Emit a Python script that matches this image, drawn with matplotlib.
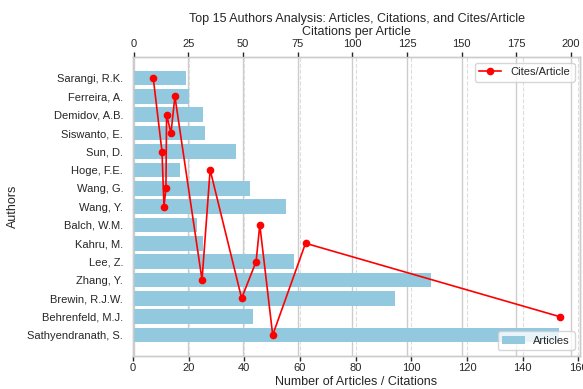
import numpy as np
import matplotlib
matplotlib.use("Agg")
import matplotlib.pyplot as plt
import matplotlib.transforms as mtransforms

plt.rcParams.update({
    "font.family": ["Liberation Sans", "DejaVu Sans"],
    "font.size": 8,
    "axes.edgecolor": "#cccccc",
    "axes.linewidth": 1.0,
    "text.color": ".15",
    "axes.labelcolor": ".15",
    "xtick.color": ".15",
    "ytick.color": ".15",
})

authors = ["Sarangi, R.K.", "Ferreira, A.", "Demidov, A.B.", "Siswanto, E.", "Sun, D.",
           "Hoge, F.E.", "Wang, G.", "Wang, Y.", "Balch, W.M.", "Kahru, M.",
           "Lee, Z.", "Zhang, Y.", "Brewin, R.J.W.", "Behrenfeld, M.J.", "Sathyendranath, S."]
articles = [19, 20, 25, 26, 37, 17, 42, 55, 23, 25, 58, 107, 94, 43, 153]
cites_per_article = [9.0, 18.9, 15.1, 17.1, 13.0, 35.0, 14.8, 13.9, 57.7, 78.6,
                     56.0, 31.3, 49.4, 194.8, 63.6]

bar_color = "#93c9de"

fig, ax = plt.subplots(figsize=(5.83, 3.89), dpi=100)
fig.subplots_adjust(left=0.228, right=0.995, top=0.853, bottom=0.085)

ypos = np.arange(len(authors))
ax.barh(ypos, articles, height=0.8, color=bar_color, label="Articles", zorder=2)
ax.set_yticks(ypos)
ax.set_yticklabels(authors)
ax.invert_yaxis()
ax.set_xlabel("Number of Articles / Citations", fontsize=9, labelpad=2)
ax.set_ylabel("Authors", fontsize=9, labelpad=6)
ax.set_axisbelow(True)
ax.grid(axis="x", linestyle="--", color="#dddddd", linewidth=0.8)
ax.tick_params(axis="x", length=3.5, width=1.0, color=".15", pad=1.5)
ax.tick_params(axis="y", length=0, pad=7)
ax.legend(loc="lower right", frameon=True, edgecolor="#cccccc", fontsize=8)

# second x-axis on top for citations per article (line sorted by x)
ax2 = ax.twiny()
order = np.argsort(cites_per_article)
cpa = np.array(cites_per_article)[order]
ax2.plot(cpa, ypos[order], color="red", marker="o", markersize=4.5, linewidth=1.2,
         label="Cites/Article")
ax2.set_xlabel("Citations per Article", fontsize=9, labelpad=3)
ax2.tick_params(axis="x", length=3.5, width=1.0, color=".15", pad=2.2)
ax2.legend(loc="upper right", frameon=True, edgecolor="#cccccc", fontsize=8)
ax2.grid(False)
for s in ax2.spines.values():
    s.set_color("#cccccc")

# solid grid at the top-axis ticks, kept behind the bars
fig.canvas.draw()
top_ticks = [t for t in ax2.get_xticks() if ax2.get_xlim()[0] <= t <= ax2.get_xlim()[1]]
blend = mtransforms.blended_transform_factory(ax2.transData, ax.transAxes)
ax.vlines(top_ticks, 0, 1, transform=blend, colors="#cccccc", linewidth=1.0, zorder=0.5)

ax.set_title("Top 15 Authors Analysis: Articles, Citations, and Cites/Article",
             fontsize=9, y=1.117, pad=0)

fig.savefig("out.png", dpi=100)
